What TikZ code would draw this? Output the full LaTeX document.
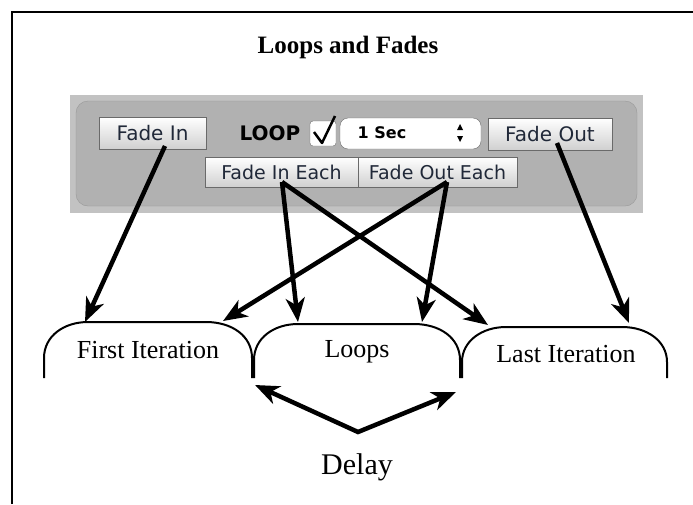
\documentclass[tikz,border=0pt]{standalone}
\usepackage{fontspec}
\setmainfont{Liberation Serif}
\setsansfont{DejaVu Sans}
\usetikzlibrary{arrows.meta}

\definecolor{panelout}{HTML}{C2C2C2}
\definecolor{panelin}{HTML}{B1B1B1}
\definecolor{paneledge}{HTML}{989898}
\definecolor{btnedge}{HTML}{6A6A6A}
\definecolor{btnlow}{HTML}{D0D0D0}
\definecolor{btntext}{HTML}{202838}

\tikzset{
  btn/.style={draw=btnedge, line width=1pt, top color=white, bottom color=btnlow,
    inner sep=0pt, text=btntext, font=\sffamily\fontsize{20}{24}\selectfont},
  bubble/.style={line width=2pt},
  pointer/.style={line width=4.5pt, -{Stealth[length=24pt,width=19pt,inset=7pt]}},
  twohead/.style={line width=4.5pt, line join=miter,
    {Stealth[length=24pt,width=19pt,inset=7pt]}-{Stealth[length=24pt,width=19pt,inset=7pt]}},
  tablabel/.style={font=\fontsize{26}{30}\selectfont},
}

\begin{document}
\begin{tikzpicture}[x=1pt, y=-1pt]
      \useasboundingbox (0,0) rectangle (693,504);
      %
      \draw[line width=2.5pt] (12,504) -- (12,12) -- (693,12);   % frame
      \node[font=\bfseries\fontsize{25}{30}\selectfont] (title) at (348,47) {Loops and Fades};
      %
      % control panel
      \fill[panelout] (70,95) rectangle (643,213);
      \draw[fill=panelin, draw=paneledge, rounded corners=12pt] (76,101) rectangle (637,206);
      \node[btn, minimum width=107pt, minimum height=32pt] (fadein) at (152.5,133) {Fade In};
      \node[font=\sffamily\bfseries\fontsize{20}{24}\selectfont, text=black] (loop) at (270,133) {LOOP};
      \draw[fill=white, draw=btnedge, rounded corners=3pt] (310,121) rectangle (336,146);
      \draw[line width=2.5pt, line join=round] (314,132) -- (322,143) -- (335,116);   % tick
      \draw[fill=white, draw=btnedge, rounded corners=8pt] (340,118) rectangle (481,149);
      \node[font=\sffamily\bfseries\fontsize{16}{20}\selectfont] (secs) at (382,133) {1 Sec};
      \fill (460,124) -- (457,130) -- (463,130) -- cycle;   % up
      \fill (460,142) -- (457,136) -- (463,136) -- cycle;   % down
      \node[btn, minimum width=124pt, minimum height=32pt] (fadeout) at (550,134) {Fade Out};
      \node[btn, minimum width=153pt, minimum height=30pt, font=\sffamily\fontsize{19}{23}\selectfont] (fadeineach) at (281.5,172) {Fade In Each};
      \node[btn, minimum width=159pt, minimum height=30pt, font=\sffamily\fontsize{19}{23}\selectfont] (fadeouteach) at (437.5,172) {Fade Out Each};
      %
      % tabs
      \draw[bubble] (44,378) -- (44,358) .. controls (44,336) and (64,322) .. (88,322) -- (206,322) .. controls (232,322) and (252,336) .. (252,358) -- (252,378);     % first
      \draw[bubble] (254,378) -- (254,360) .. controls (254,338) and (274,324) .. (298,324) -- (414,324) .. controls (440,324) and (460,338) .. (460,360) -- (460,378); % loops
      \draw[bubble] (462,378) -- (462,362) .. controls (462,341) and (482,327) .. (506,327) -- (622,327) .. controls (647,327) and (667,341) .. (667,362) -- (667,378); % last
      \node[tablabel] (first) at (148,350) {First Iteration};
      \node[tablabel] (loops) at (357,352) {Loops};
      \node[tablabel] (last) at (566,354) {Last Iteration};
      %
      % arrow ends
      \coordinate (fadein-s) at (165,146);
      \coordinate (fadeout-s) at (557,143);
      \coordinate (fadeineach-s) at (282,182);
      \coordinate (fadeouteach-s) at (447,182);
      \coordinate (first-l) at (85,322);
      \coordinate (first-r) at (223,321);
      \coordinate (loops-l) at (298,322);
      \coordinate (loops-r) at (422,322);
      \coordinate (last-l) at (488,325);
      \coordinate (last-r) at (629,323);
      %
      \draw[pointer] (fadein-s) -- (first-l);
      \draw[pointer] (fadeineach-s) -- (loops-l);
      \draw[pointer] (fadeineach-s) -- (last-l);
      \draw[pointer] (fadeouteach-s) -- (first-r);
      \draw[pointer] (fadeouteach-s) -- (loops-r);
      \draw[pointer] (fadeout-s) -- (last-r);
      %
      % delay
      \coordinate (delay-l) at (255,385);
      \coordinate (delay-v) at (358,432);
      \coordinate (delay-r) at (456,392);
      \draw[twohead] (delay-l) -- (delay-v) -- (delay-r);
      \node[font=\fontsize{30}{36}\selectfont] (delay) at (357,467) {Delay};
      %
    \end{tikzpicture}
\end{document}
